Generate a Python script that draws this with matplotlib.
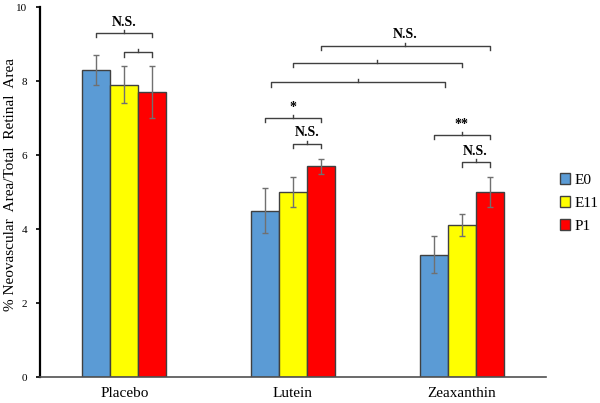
import numpy as np
import matplotlib.pyplot as plt

plt.rcParams['font.family'] = ['Liberation Serif', 'DejaVu Serif']

groups = ["Placebo", "Lutein", "Zeaxanthin"]
series = ["E0", "E11", "P1"]
colors = ["#5b9bd5", "#ffff00", "#ff0000"]
means = {
    "E0": [8.3, 4.5, 3.3],
    "E11": [7.9, 5.0, 4.1],
    "P1": [7.7, 5.7, 5.0],
}
errs = {
    "E0": [0.4, 0.6, 0.5],
    "E11": [0.5, 0.4, 0.3],
    "P1": [0.7, 0.2, 0.4],
}

# significance brackets: (group, bar) start, (group, bar) end, height, label
brackets = [
    ((0, 0), (0, 2), 9.3, "N.S."),
    ((0, 1), (0, 2), 8.78, ""),
    ((1, 2), (2, 2), 8.95, "N.S."),
    ((1, 1), (2, 1), 8.49, ""),
    ((1, 0.2), (2, 0.4), 7.97, ""),
    ((1, 0), (1, 2), 7.0, "*"),
    ((1, 1), (1, 2), 6.3, "N.S."),
    ((2, 0), (2, 2), 6.54, "**"),
    ((2, 1), (2, 2), 5.81, "N.S."),
]

width = 0.166
x = np.arange(len(groups))

fig = plt.figure(figsize=(6, 4.03), dpi=100)
ax = fig.add_axes([0.0667, 0.0645, 0.8433, 0.918])

for i, s in enumerate(series):
    ax.bar(x + (i - 1) * width, means[s], width, color=colors[i],
           edgecolor="#404040", linewidth=1.0, label=s,
           yerr=errs[s], ecolor="#707070",
           error_kw=dict(elinewidth=1.0, capsize=2.5, capthick=1.0))


def bar_x(g, b):
    return g + (b - 1) * width


for (g1, b1), (g2, b2), h, lab in brackets:
    x1, x2 = bar_x(g1, b1), bar_x(g2, b2)
    d = 0.12
    ax.plot([x1, x1, x2, x2], [h - d, h, h, h - d], color="#404040", lw=1.0)
    xm = (x1 + x2) / 2
    ax.plot([xm, xm], [h, h + 0.08], color="#404040", lw=1.0)
    if lab:
        ax.text(xm, h + 0.12, lab, ha="center", va="bottom",
                fontsize=10, fontweight="bold")

ax.set_xlim(-0.5, 2.5)
ax.set_ylim(0, 10)
ax.set_yticks([0, 2, 4, 6, 8, 10])
ax.tick_params(axis="y", labelsize=8, length=3, width=1.2, pad=6)
ax.set_xticks(x)
ax.set_xticklabels(groups, fontsize=11)
ax.tick_params(axis="x", length=0, pad=7)
ax.set_ylabel("% Neovascular  Area/Total  Retinal  Area", fontsize=11)
ax.yaxis.set_label_coords(-0.046, 0.52)
for side in ["top", "right"]:
    ax.spines[side].set_visible(False)
ax.spines["left"].set_linewidth(1.6)
ax.spines["left"].set_color("black")
ax.spines["bottom"].set_color("#505050")
ax.spines["bottom"].set_linewidth(1.2)

ax.legend(loc="center left", bbox_to_anchor=(1.0, 0.47), frameon=False,
          fontsize=11, handlelength=0.7, handleheight=0.7,
          handletextpad=0.3, labelspacing=0.6)

fig.savefig("out.png", dpi=100)
print("Saved: out.png")
